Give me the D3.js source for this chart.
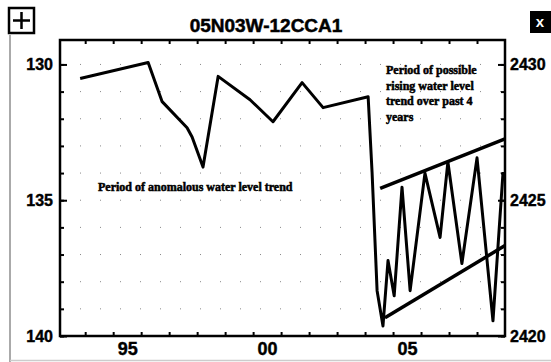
<!DOCTYPE html>
<html>
<head>
<meta charset="utf-8">
<script src="https://cdn.jsdelivr.net/npm/d3@7"></script>
<style>
  body { margin: 0; background: #fff; }
  svg { display: block; }
  .axis path { display: none; }
  .axis line { stroke: #000; stroke-width: 2; }
  .axis text { font-family: Arial, "Liberation Sans", sans-serif; font-weight: bold; fill: #000; stroke: #000; stroke-width: 0.4; }
  .note { stroke: #000; stroke-width: 0.5; }
</style>
</head>
<body>
<div id="chart"></div>
<script>
// Well hydrograph data (depth to water, ft below land surface)
const years  = [1993.82, 1996.25, 1996.75, 1997.64, 1997.82, 1998.21, 1998.75, 1999.89,
                2000.71, 2001.75, 2002.50, 2004.11, 2004.25, 2004.43, 2004.64, 2004.82,
                2005.04, 2005.32, 2005.61, 2006.14, 2006.68, 2006.96, 2007.46, 2008.00,
                2008.57, 2008.93];
const depths = [130.52, 129.93, 131.37, 132.33, 132.67, 133.78, 130.44, 131.30,
                132.11, 130.67, 131.59, 131.19, 133.96, 138.33, 139.63, 137.22,
                138.52, 134.52, 138.33, 134.00, 136.37, 133.59, 137.33, 133.44,
                139.44, 133.96];

// Hand-drawn trend lines bounding the recent rising period
const upperTrend = [[2004.54, 134.56], [2009.0, 132.74]];
const lowerTrend = [[2004.71, 139.33], [2009.0, 136.67]];

const title = "05N03W-12CCA1";
const depthTicks = [130, 135, 140];
const elevTicks = [2430, 2425, 2420];
const landSurface = 2560;
const yearLabels = [{ year: 1995, label: "95" }, { year: 2000, label: "00" }, { year: 2005, label: "05" }];
const note1 = "Period of anomalous water level trend";
const note2 = ["Period of possible", "rising water level", "trend  over past 4", "years"];

const width = 551, height = 362;
const margin = { top: 40, right: 46, bottom: 26, left: 60 };
const plotW = width - margin.left - margin.right;
const plotH = height - margin.top - margin.bottom;

const svg = d3.select("#chart").append("svg")
    .attr("width", width)
    .attr("height", height);

// window decorations
svg.append("line")
    .attr("x1", 10).attr("x2", 10).attr("y1", 35).attr("y2", height)
    .attr("stroke", "#aaa").attr("stroke-width", 2);
svg.append("line")
    .attr("x1", 10).attr("x2", width).attr("y1", 360.5).attr("y2", 360.5)
    .attr("stroke", "#ccc").attr("stroke-width", 1.5);

const plusBox = svg.append("g").attr("transform", "translate(9,8)");
plusBox.append("rect")
    .attr("width", 25).attr("height", 25)
    .attr("fill", "#fff").attr("stroke", "#000").attr("stroke-width", 2.5);
plusBox.append("path")
    .attr("d", "M12.5,4V21M4,12.5H21")
    .attr("stroke", "#000").attr("stroke-width", 2.5);

svg.append("rect")
    .attr("x", 530).attr("y", 11).attr("width", 21).attr("height", 22)
    .attr("fill", "#000");
svg.append("text")
    .attr("x", 540).attr("y", 27)
    .attr("text-anchor", "middle")
    .style("font", "bold 15px Arial, sans-serif")
    .attr("fill", "#fff")
    .text("x");

// title
svg.append("text")
    .attr("x", 266).attr("y", 32)
    .attr("text-anchor", "middle")
    .attr("stroke", "#000").attr("stroke-width", 0.5)
    .style("font", "bold 19px Arial, 'Liberation Sans', sans-serif")
    .text(title);

const g = svg.append("g")
    .attr("transform", `translate(${margin.left}, ${margin.top})`);

// scales
const x = d3.scaleLinear()
    .domain([1993.1, 2009.0])
    .range([0, plotW]);

const y = d3.scaleLinear()
    .domain([129.1, 140])
    .range([0, plotH]);

const yElev = d3.scaleLinear()
    .domain(y.domain().map(d => landSurface - d))
    .range([0, plotH]);

// faint dotted grid at each foot
g.append("g")
    .selectAll("line")
    .data(d3.range(130, 140))
    .enter().append("line")
    .attr("x1", 0).attr("x2", plotW)
    .attr("y1", d => y(d)).attr("y2", d => y(d))
    .attr("stroke", "#888").attr("stroke-width", 1)
    .attr("stroke-dasharray", "1,19");

// minor ticks (inward)
const minorDepth = d3.range(130, 141);
const minorYears = d3.range(1994, 2009);

g.append("g").attr("class", "axis")
    .call(d3.axisLeft(y).tickValues(minorDepth).tickSize(-4).tickFormat(""));
g.append("g").attr("class", "axis")
    .attr("transform", `translate(${plotW},0)`)
    .call(d3.axisRight(yElev).tickValues(minorDepth.map(d => landSurface - d)).tickSize(-4).tickFormat(""));
g.append("g").attr("class", "axis")
    .attr("transform", `translate(0,${plotH})`)
    .call(d3.axisBottom(x).tickValues(minorYears).tickSize(-4).tickFormat(""));
g.append("g").attr("class", "axis")
    .call(d3.axisTop(x).tickValues(minorYears).tickSize(-4).tickFormat(""));

// major ticks + labels
g.append("g").attr("class", "axis")
    .call(d3.axisLeft(y).tickValues(depthTicks).tickSize(-7).tickPadding(7).tickFormat(d3.format("d")))
    .selectAll("text").style("font-size", "16px");
g.append("g").attr("class", "axis")
    .attr("transform", `translate(${plotW},0)`)
    .call(d3.axisRight(yElev).tickValues(elevTicks).tickSize(-7).tickPadding(5).tickFormat(d3.format("d")))
    .selectAll("text").style("font-size", "16px");

const xLab = g.append("g").attr("class", "axis")
    .attr("transform", `translate(0,${plotH})`)
    .call(d3.axisBottom(x)
        .tickValues(yearLabels.map(d => d.year + 0.5))
        .tickSize(0).tickPadding(6)
        .tickFormat((d, i) => yearLabels[i].label));
xLab.selectAll("text").style("font-size", "18px");

// frame
g.append("rect")
    .attr("width", plotW).attr("height", plotH)
    .attr("fill", "none").attr("stroke", "#000").attr("stroke-width", 2.5);

// hydrograph line
const line = d3.line()
    .x(d => x(d[0]))
    .y(d => y(d[1]));

g.append("path")
    .datum(years.map((yr, i) => [yr, depths[i]]))
    .attr("fill", "none")
    .attr("stroke", "#000")
    .attr("stroke-width", 3)
    .attr("stroke-linejoin", "round")
    .attr("d", line);

// trend lines
[upperTrend, lowerTrend].forEach(t => {
    g.append("path")
        .datum(t)
        .attr("fill", "none")
        .attr("stroke", "#000")
        .attr("stroke-width", 3.5)
        .attr("d", line);
});

// annotations
const noteFont = "bold 12px 'Liberation Serif', 'Times New Roman', serif";
svg.append("text")
    .attr("class", "note")
    .attr("x", 98).attr("y", 191)
    .style("font", noteFont)
    .text(note1);

svg.append("g").selectAll("text")
    .data(note2)
    .enter().append("text")
    .attr("class", "note")
    .attr("x", 386)
    .attr("y", (d, i) => 74 + i * 15.7)
    .style("font", noteFont)
    .text(d => d);
</script>
</body>
</html>
